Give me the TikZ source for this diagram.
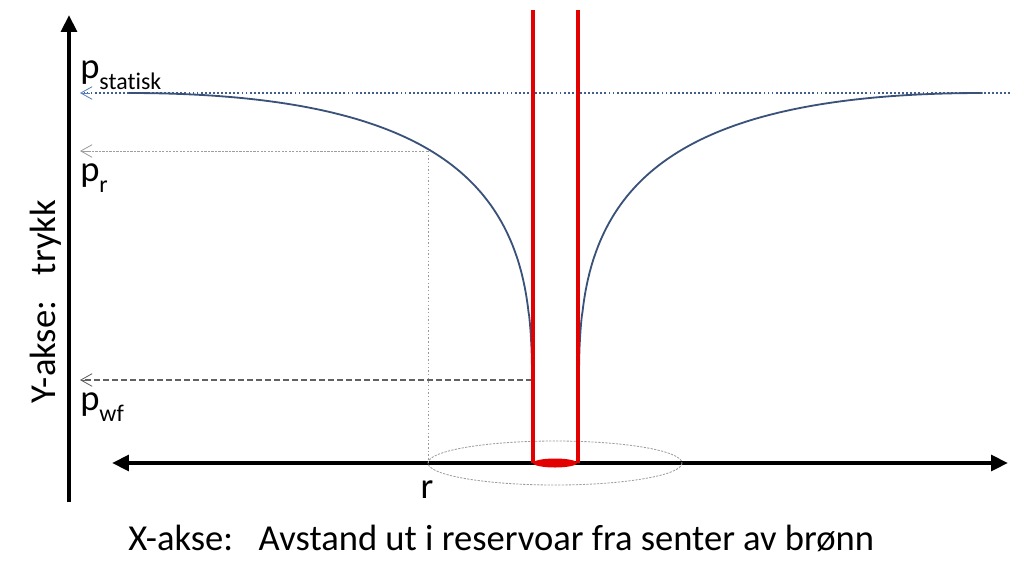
\documentclass[tikz,border=0pt]{standalone}
\usepackage{fontspec}
\setmainfont{Carlito}[Ligatures=NoCommon]
\usetikzlibrary{arrows.meta}
\definecolor{curveblue}{RGB}{58,82,122}
\definecolor{dotblue}{RGB}{68,94,140}
\definecolor{tipblue}{RGB}{90,130,195}
\definecolor{wellred}{RGB}{226,0,0}
\tikzset{
	axistip/.tip={Triangle[length=12pt,width=11pt]},
	opentip/.tip={Straight Barb[length=8pt,width=9pt,line width=0.6pt]},
	axisline/.style={line width=3.5pt, black},
	wellline/.style={line width=3.2pt, wellred},
	pcurve/.style={line width=1.3pt, curveblue},
	statline/.style={line width=1.3pt, dotblue, dash pattern=on 1.3pt off 1.6pt},
	lightguide/.style={line width=0.6pt, black!38, dash pattern=on 1.6pt off 0.9pt},
	dotguide/.style={line width=0.6pt, black!40, dash pattern=on 1pt off 1.6pt},
	darkguide/.style={line width=0.8pt, black!62, dash pattern=on 4pt off 2.4pt},
	lbl/.style={inner sep=0pt, font=\fontsize{26}{30}\selectfont}
}
\newcommand{\psub}[1]{p\raisebox{-0.32em}{\fontsize{17}{20}\selectfont #1}}

\begin{document}
\begin{tikzpicture}[x=0.025cm, y=-0.025cm]
			%%%%% START %%%%%
			\useasboundingbox (0,0) rectangle (1024,580);
			
			\coordinate (rpt) at (428,151);
			\coordinate (wfpt) at (532,380);
			\coordinate (rfoot) at (428,463);
			
			% axes
			\draw[axisline, -axistip] (69,502) -- (69,15);
			\draw[axisline, axistip-axistip] (112,463) -- (1008,463);
			
			% guide lines
			\draw[statline] (1010,93) -- (84,93);
			\draw[tipblue, -opentip] (90,93) -- (80,93);
			\draw[lightguide] (rpt) -- (84,151);
			\draw[black!38, -opentip] (90,151) -- (80,151);
			\draw[dotguide] (rpt) -- (rfoot);
			\draw[darkguide] (wfpt) -- (84,380);
			\draw[black!62, -opentip] (90,380) -- (80,380);
			\draw[lightguide] (555,463) ellipse [x radius=127, y radius=22];
			
			% pressure curve
			\draw[pcurve] (wfpt) -- plot[domain=0.001:1, samples=120] ({532-404*\x^2.326}, {380-287*(1-(1-\x)^2)});
			\draw[pcurve] (579,380) -- plot[domain=0.001:1, samples=120] ({579+404*\x^2.326}, {380-287*(1-(1-\x)^2)});
			
			% well
			\draw[wellline] (533,10) -- (533,463);
			\draw[wellline] (578,10) -- (578,463);
			\fill[wellred] (555,463) ellipse [x radius=22, y radius=4.5];
			
			% labels
			\node[lbl, anchor=base west] (pstatisk) at (80,78) {\psub{statisk}};
			\node[lbl, anchor=base west] (pr) at (80,181) {\psub{r}};
			\node[lbl, anchor=base west] (pwf) at (80,410) {\psub{wf}};
			\node[lbl, anchor=base] (rlabel) at (427,498) {r};
			\node[lbl, anchor=base west] (xlabel) at (128,550) {X-akse:\hspace{0.4em} Avstand ut i reservoar fra senter av brønn};
			\node[lbl, anchor=base, rotate=90] (ylabel) at (55,302) {Y-akse:\hspace{0.4em} trykk};
			%%%%% END %%%%%
\end{tikzpicture}
\end{document}
